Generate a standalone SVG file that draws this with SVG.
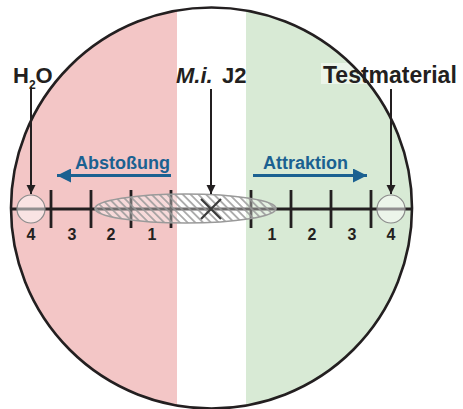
<svg xmlns="http://www.w3.org/2000/svg" width="463" height="409" viewBox="0 0 463 409">
<defs>
<style>
.lbl{font-family:"Liberation Sans",Arial,sans-serif;font-weight:bold;fill:#231f20}
.num{font-family:"Liberation Sans",Arial,sans-serif;font-weight:bold;font-size:16px;fill:#231f20;text-anchor:middle}
.blue{font-family:"Liberation Sans",Arial,sans-serif;font-weight:bold;font-size:18px;fill:#1b6191}
.ax{stroke:#231f20;stroke-width:2.8;fill:none}
.blk{stroke:#231f20;stroke-width:2;fill:none}
.barr{stroke:#1b6191;stroke-width:3.2;fill:none}
.well{fill:#ffffff;fill-opacity:0.5;stroke:#8a8a8a;stroke-width:1.2}
</style>
<clipPath id="cc"><circle cx="211.5" cy="208" r="200.5"/></clipPath>
<pattern id="hatch" patternUnits="userSpaceOnUse" width="5.5" height="5.5" patternTransform="rotate(45)">
<line x1="0" y1="2.75" x2="5.5" y2="2.75" stroke="#999999" stroke-width="1.5"/>
</pattern>
<marker id="ah" viewBox="0 0 10 10" refX="10" refY="5" markerWidth="9" markerHeight="10" markerUnits="userSpaceOnUse" orient="auto"><path d="M0,0 L10,5 L0,10 Z" fill="#231f20"/></marker>
<marker id="bh" viewBox="0 0 10 10" refX="10" refY="5" markerWidth="14" markerHeight="14" markerUnits="userSpaceOnUse" orient="auto"><path d="M0,0 L10,5 L0,10 Z" fill="#1b6191"/></marker>
</defs>

<g id="dish">
<g clip-path="url(#cc)">
<rect x="0" y="0" width="177" height="409" fill="#f3c6c6"/>
<rect x="177" y="0" width="69" height="409" fill="#ffffff"/>
<rect x="246" y="0" width="217" height="409" fill="#d8ead5"/>
</g>
<rect x="321" y="63" width="141" height="21" fill="#ffffff" fill-opacity="0.5"/>
<circle cx="211.5" cy="208" r="200.5" fill="none" stroke="#231f20" stroke-width="2.6"/>
</g>

<g id="scale">
<line class="ax" x1="11" y1="209" x2="412" y2="209"/>
<line class="ax" x1="51" y1="190" x2="51" y2="228"/>
<line class="ax" x1="91" y1="190" x2="91" y2="228"/>
<line class="ax" x1="131" y1="190" x2="131" y2="228"/>
<line class="ax" x1="171" y1="190" x2="171" y2="228"/>
<line class="ax" x1="251" y1="190" x2="251" y2="228"/>
<line class="ax" x1="291" y1="190" x2="291" y2="228"/>
<line class="ax" x1="331" y1="190" x2="331" y2="228"/>
<line class="ax" x1="371" y1="190" x2="371" y2="228"/>
<text class="num" x="31" y="240">4</text>
<text class="num" x="72" y="240">3</text>
<text class="num" x="111" y="240">2</text>
<text class="num" x="152" y="240">1</text>
<text class="num" x="272" y="240">1</text>
<text class="num" x="312" y="240">2</text>
<text class="num" x="352" y="240">3</text>
<text class="num" x="391" y="240">4</text>
</g>

<g id="zone">
<ellipse cx="185.5" cy="208.5" rx="90.5" ry="14.5" fill="#ffffff" fill-opacity="0.35"/>
<ellipse cx="185.5" cy="208.5" rx="90.5" ry="14.5" fill="url(#hatch)" stroke="#9a9a9a" stroke-width="1.6"/>
</g>

<g id="h2o-well"><circle class="well" cx="31" cy="209" r="14"/></g>
<g id="test-well"><circle class="well" cx="391" cy="209" r="14"/></g>

<g id="nematode">
<path d="M201,199 L221,219 M221,199 L201,219" stroke="#3a3a3a" stroke-width="2.2"/>
</g>

<g id="labels">
<text class="lbl" x="13" y="83" font-size="22">H<tspan font-size="12" dy="6">2</tspan><tspan dy="-6">O</tspan></text>
<text class="lbl" y="83" font-size="22"><tspan x="176" font-style="italic">M.i.</tspan><tspan x="222">J2</tspan></text>
<text class="lbl" x="323" y="82.5" font-size="23">Testmaterial</text>
<text class="blue" x="75" y="169">Abstoßung</text>
<text class="blue" x="263" y="169">Attraktion</text>
</g>

<g id="connectors">
<line class="blk" x1="31" y1="87" x2="31" y2="194" marker-end="url(#ah)"/>
<line class="blk" x1="211" y1="89" x2="211" y2="194" marker-end="url(#ah)"/>
<line class="blk" x1="391" y1="89" x2="391" y2="194" marker-end="url(#ah)"/>
<line class="barr" x1="171" y1="175.5" x2="57" y2="175.5" marker-end="url(#bh)"/>
<line class="barr" x1="253" y1="175.5" x2="367" y2="175.5" marker-end="url(#bh)"/>
</g>
</svg>
